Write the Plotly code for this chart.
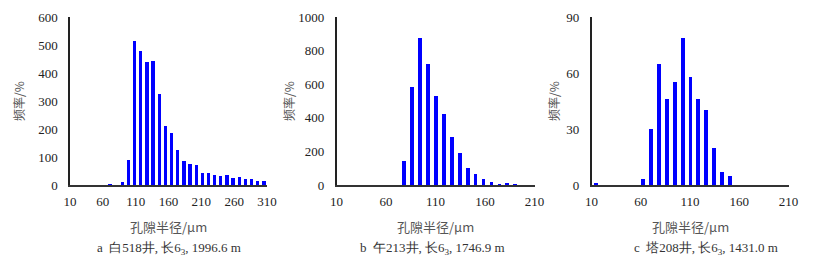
import plotly.graph_objects as go

# Panel a: 白518井
radius_a = [70.9, 80.3, 89.7, 99.1, 108.4, 117.8, 127.2, 136.6, 145.9, 155.3, 164.7, 174.1, 183.4,
            192.8, 202.2, 211.6, 220.9, 230.3, 239.7, 249.1, 258.4, 267.8, 277.2, 286.6, 295.9, 305.3]
freq_a = [2, 0, 10, 90, 513, 478, 440, 442, 325, 210, 185, 125, 85,
          75, 72, 42, 42, 35, 32, 35, 25, 28, 20, 23, 13, 14]

# Panel b: 午213井
radius_b = [78, 86, 94, 102, 110, 118, 126, 134, 142, 150, 158, 166, 174, 182, 190]
freq_b = [140, 581, 874, 720, 529, 421, 283, 193, 104, 68, 36, 20, 3, 10, 3]

# Panel c: 塔208井
radius_c = [14, 62, 70, 78, 86, 94, 102, 110, 118, 126, 134, 142, 150]
freq_c = [1, 3, 30, 65, 46, 55, 79, 58, 46, 40, 20, 7, 5]

xticks_a = [10, 60, 110, 160, 210, 260, 310]
xticks_bc = [10, 60, 110, 160, 210]
yticks_a = [0, 100, 200, 300, 400, 500, 600]
yticks_b = [0, 200, 400, 600, 800, 1000]
yticks_c = [0, 30, 60, 90]

captions = ["a  白518井, 长6<sub>3</sub>, 1996.6 m",
            "b  午213井, 长6<sub>3</sub>, 1746.9 m",
            "c  塔208井, 长6<sub>3</sub>, 1431.0 m"]
xtitle = "孔隙半径/μm"
ytitle = "频率/%"

W, H = 815, 262
num_font = "Liberation Serif, Times New Roman, Times, serif"
cjk_font = "Noto Sans CJK SC, sans-serif"

panels = [
    dict(x=radius_a, y=freq_a, w=5.0, xr=[10, 310], xt=xticks_a, yr=[0, 600], yt=yticks_a,
         px=(70, 267), ytx=18, capx=168.5),
    dict(x=radius_b, y=freq_b, w=3.7, xr=[10, 210], xt=xticks_bc, yr=[0, 1000], yt=yticks_b,
         px=(336.5, 534.5), ytx=288, capx=432),
    dict(x=radius_c, y=freq_c, w=4.0, xr=[10, 210], xt=xticks_bc, yr=[0, 90], yt=yticks_c,
         px=(591.5, 788.5), ytx=553, capx=706),
]

y_bottom, y_top = 185, 17
ydom = [(H - y_bottom) / H, (H - y_top) / H]

fig = go.Figure()
layout = dict(width=W, height=H, margin=dict(l=0, r=0, t=0, b=0, autoexpand=False),
              paper_bgcolor="white", plot_bgcolor="white", showlegend=False,
              bargap=0)
annotations = []

for i, p in enumerate(panels, start=1):
    xa = "x" if i == 1 else f"x{i}"
    ya = "y" if i == 1 else f"y{i}"
    fig.add_trace(go.Bar(x=p["x"], y=p["y"], width=p["w"], marker=dict(color="#0000ff", line_width=0),
                         xaxis=xa, yaxis=ya, hoverinfo="skip"))
    xdom = [p["px"][0] / W, p["px"][1] / W]
    layout["xaxis" if i == 1 else f"xaxis{i}"] = dict(
        domain=xdom, range=p["xr"], anchor=ya, tickvals=p["xt"], ticktext=[str(v) for v in p["xt"]],
        showgrid=False, zeroline=False, showline=True, linecolor="#333333", linewidth=2,
        ticks="outside", ticklen=3, tickcolor="rgba(0,0,0,0)", automargin=False,
        tickfont=dict(family=num_font, size=13, color="#222222"))
    layout["yaxis" if i == 1 else f"yaxis{i}"] = dict(
        domain=ydom, range=p["yr"], anchor=xa, tickvals=p["yt"], ticktext=[str(v) for v in p["yt"]],
        showgrid=False, zeroline=False, showline=True, linecolor="#222222", linewidth=1.5,
        ticks="outside", ticklen=8, tickcolor="rgba(0,0,0,0)", automargin=False,
        tickfont=dict(family=num_font, size=13, color="#222222"))
    cx = (p["px"][0] + p["px"][1]) / 2
    annotations.append(dict(text=xtitle, x=cx / W, y=(H - 227) / H, xref="paper", yref="paper",
                            showarrow=False, xanchor="center", yanchor="middle",
                            font=dict(family=cjk_font, size=13, color="#555555")))
    annotations.append(dict(text=captions[i - 1], x=p["capx"] / W, y=(H - 248) / H, xref="paper", yref="paper",
                            showarrow=False, xanchor="center", yanchor="middle",
                            font=dict(family=num_font, size=13, color="#333333")))
    annotations.append(dict(text=ytitle, x=p["ytx"] / W, y=(H - 101) / H, xref="paper", yref="paper",
                            showarrow=False, xanchor="center", yanchor="middle", textangle=-90,
                            font=dict(family=cjk_font, size=12, color="#555555")))

layout["annotations"] = annotations
fig.update_layout(**layout)
fig.write_html("out.html", config={"displayModeBar": False},
               post_script="document.body.style.margin='0';document.body.style.padding='0';")
